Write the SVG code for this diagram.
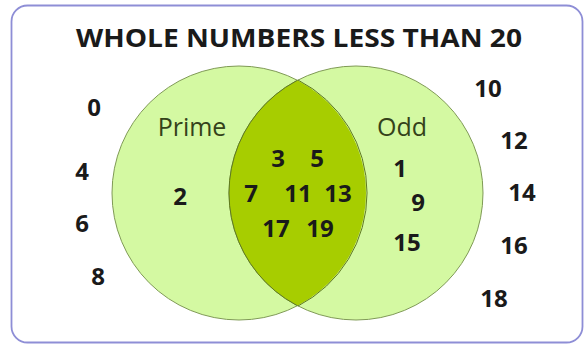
<svg xmlns="http://www.w3.org/2000/svg" width="585" height="347" viewBox="0 0 585 347">
<style>
.n{font-family:"Open Sans","DejaVu Sans",sans-serif;font-weight:bold;font-size:24px;fill:#1a1a1a;text-anchor:middle}
.lab{font-family:"Open Sans","DejaVu Sans",sans-serif;font-size:25px;fill:#34421a;text-anchor:middle}
.set{fill:#d4f9a2;stroke:#7f9a55;stroke-width:1}
</style>
<defs>
<clipPath id="clipL"><circle cx="239" cy="193" r="127"/></clipPath>
</defs>
<rect x="11.5" y="5.5" width="571" height="337" rx="16" fill="#fff" stroke="#8e8ed6" stroke-width="1.8"/>
<text x="299" y="47" style="font-family:'Open Sans','DejaVu Sans',sans-serif;font-weight:bold;font-size:25px;fill:#1a1a1a;text-anchor:middle" textLength="446" lengthAdjust="spacingAndGlyphs">WHOLE NUMBERS LESS THAN 20</text>
<g id="prime">
<circle class="set" cx="239" cy="193" r="127"/>
</g>
<g id="odd">
<circle class="set" cx="356" cy="193" r="127"/>
</g>
<g id="both">
<circle cx="356" cy="193" r="127" fill="#a7cd00" stroke="#5f7a20" stroke-width="1" clip-path="url(#clipL)"/>
<path d="M298 80 A127 127 0 0 1 298 306" fill="none" stroke="#5f7a20" stroke-width="1"/>
</g>
<g id="labels">
<text class="lab" x="192" y="136">Prime</text>
<text class="lab" x="402" y="136">Odd</text>
</g>
<g id="numbers">
<text class="n" x="180" y="205">2</text>
<text class="n" x="278" y="167">3</text>
<text class="n" x="317" y="167">5</text>
<text class="n" x="251" y="202">7</text>
<text class="n" x="298" y="202">11</text>
<text class="n" x="338" y="202">13</text>
<text class="n" x="276" y="237">17</text>
<text class="n" x="320" y="237">19</text>
<text class="n" x="400" y="177">1</text>
<text class="n" x="418" y="211">9</text>
<text class="n" x="407" y="251">15</text>
<text class="n" x="94" y="116">0</text>
<text class="n" x="82" y="180">4</text>
<text class="n" x="82" y="232">6</text>
<text class="n" x="98" y="285">8</text>
<text class="n" x="488" y="97">10</text>
<text class="n" x="514" y="149">12</text>
<text class="n" x="522" y="201">14</text>
<text class="n" x="514" y="254">16</text>
<text class="n" x="494" y="307">18</text>
</g>
</svg>
